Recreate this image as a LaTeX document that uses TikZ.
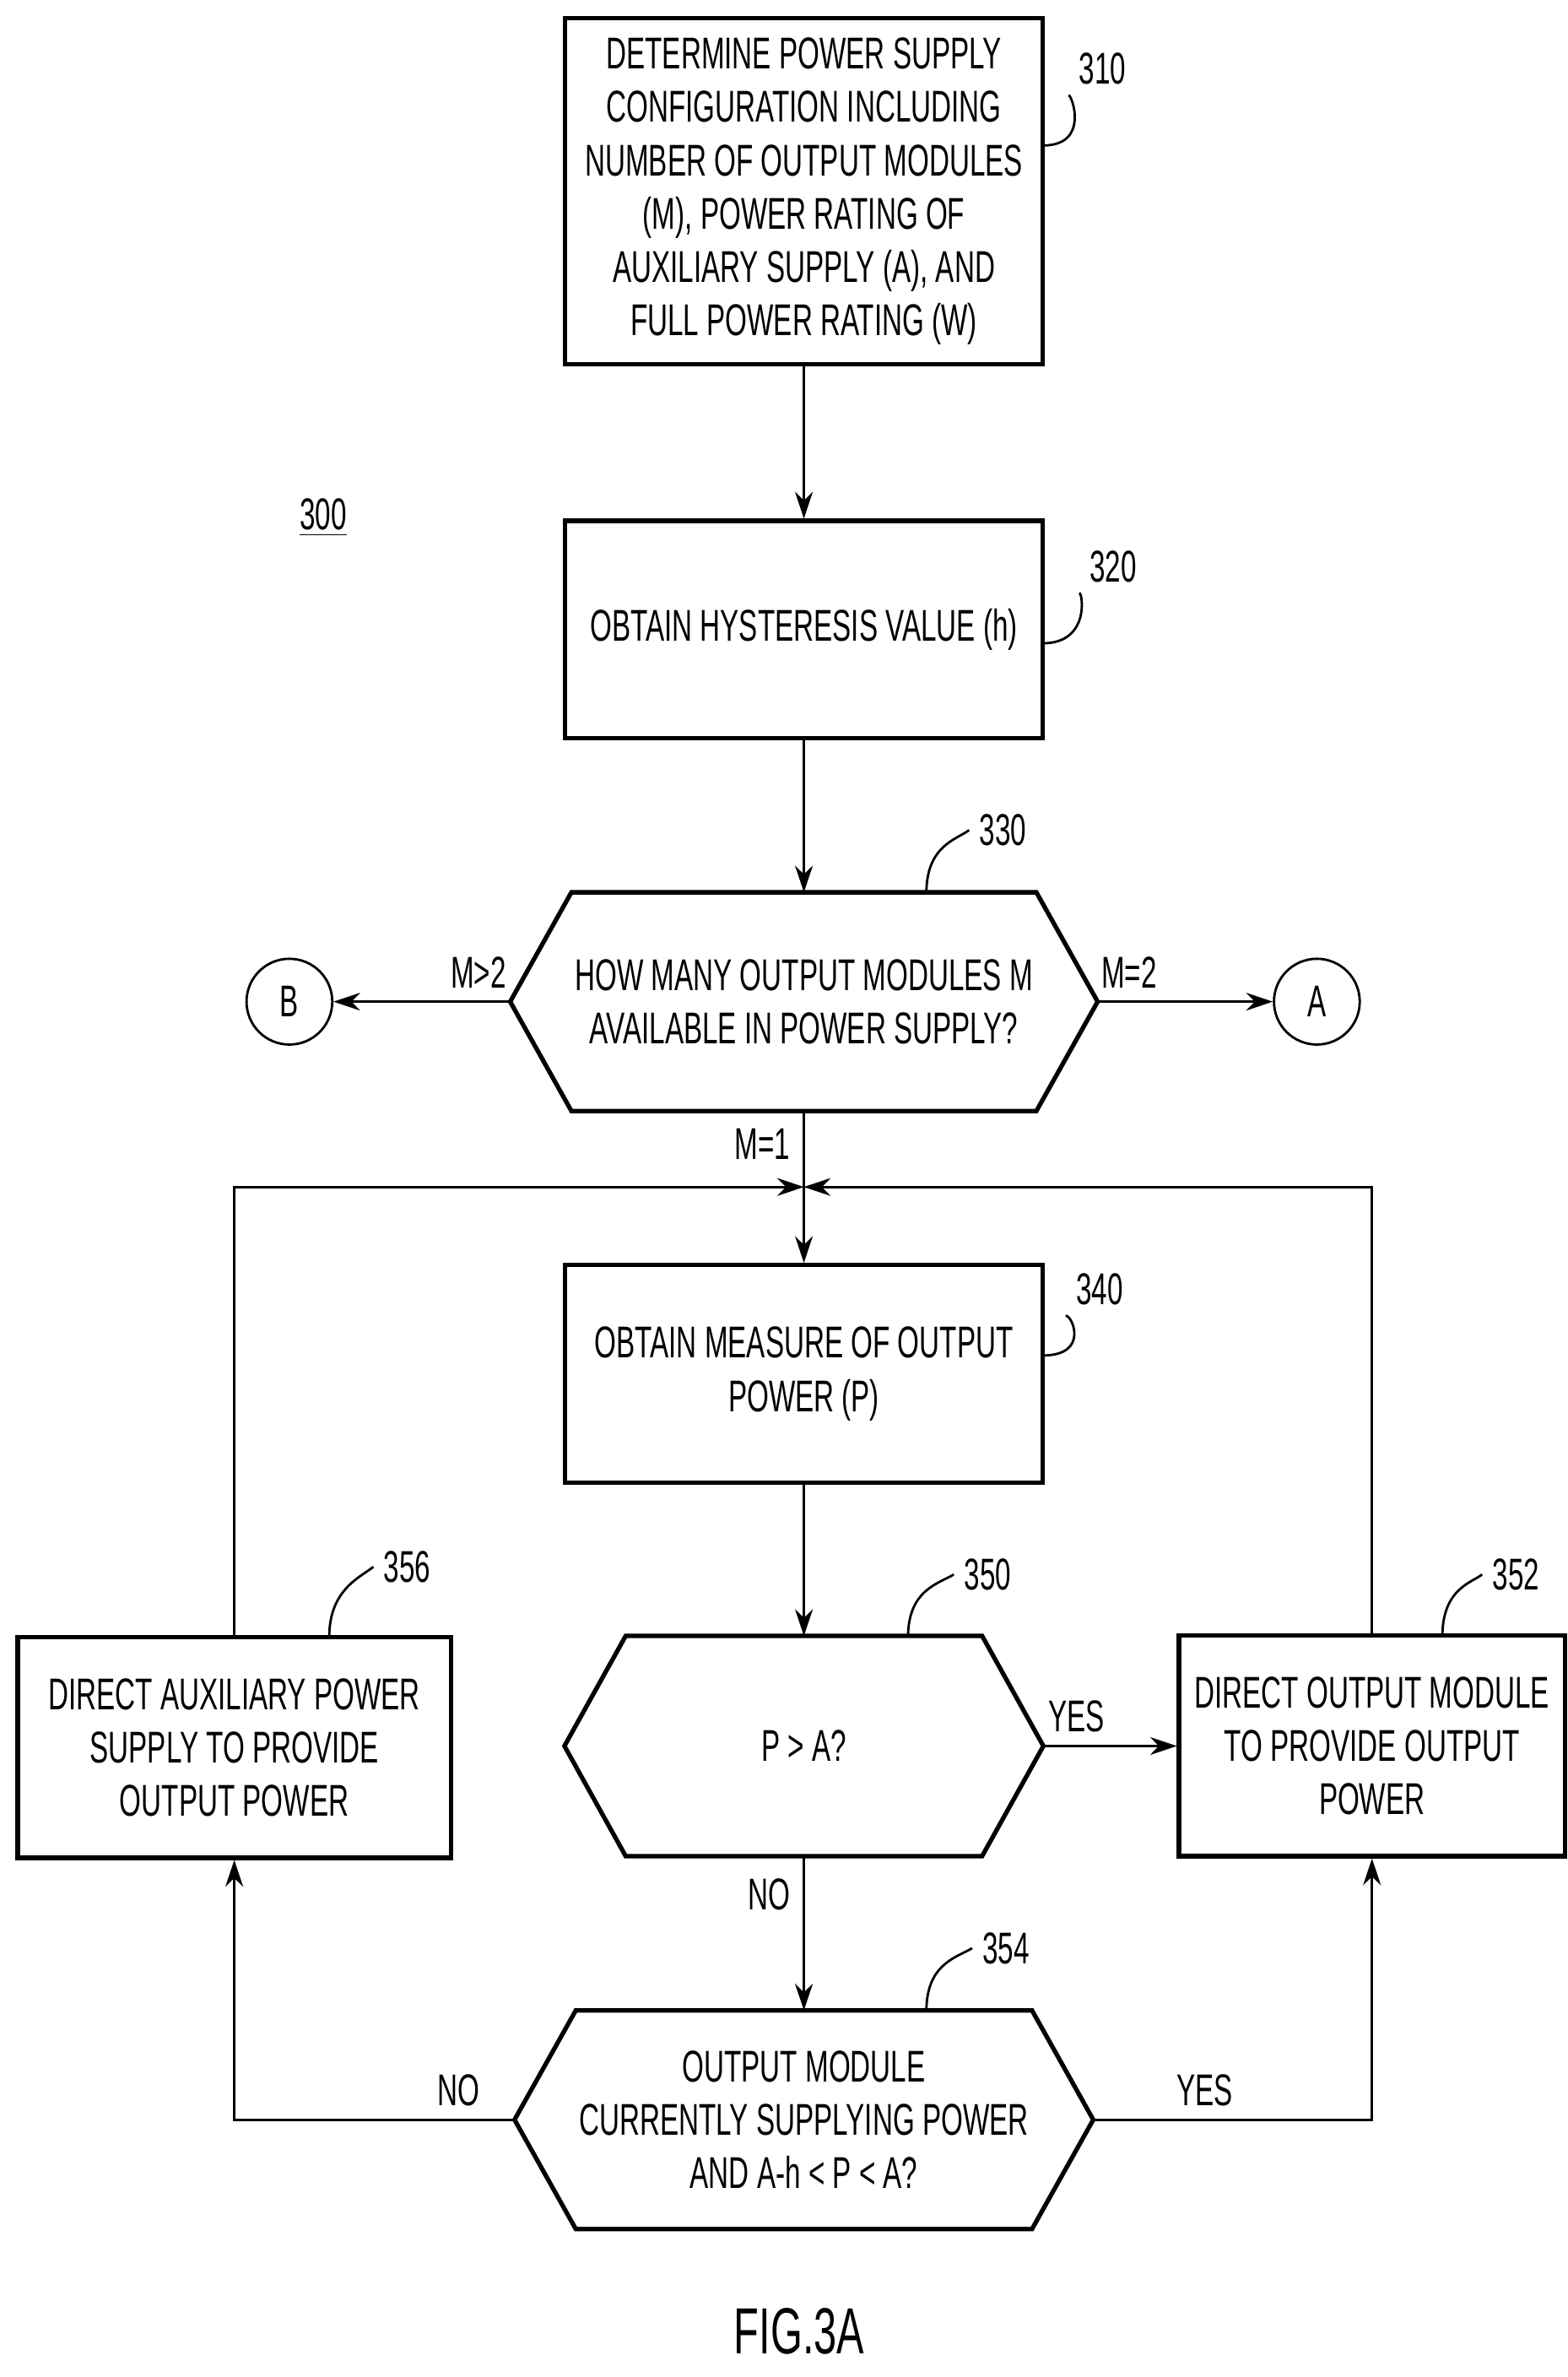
\documentclass[tikz,border=0pt]{standalone}
\usepackage{fontspec}
\setmainfont{Liberation Sans}[FakeStretch=0.63]
\usetikzlibrary{arrows.meta,calc,positioning}
\def\dpx{0.018145cm}
\tikzset{
  box/.style={draw, line width=1.5pt, align=center, inner sep=2pt, minimum width=312*\dpx, minimum height=142*\dpx, font=\fontsize{15}{18}\selectfont},
  hexa/.style={align=center, inner sep=1pt, minimum height=142*\dpx, font=\fontsize{15}{18}\selectfont},
  conn/.style={line width=0.8pt, -{Stealth[length=9pt,width=6pt]}},
  lead/.style={line width=0.8pt},
  tag/.style={font=\fontsize{15}{18}\selectfont},
  lbl/.style={font=\fontsize{15}{18}\selectfont},
}
\newcommand{\hexdraw}[1]{%
  \draw[line width=1.5pt] (#1.north west) -- (#1.north east) -- ([xshift=40*\dpx]#1.east)
    -- (#1.south east) -- (#1.south west) -- ([xshift=-40*\dpx]#1.west) -- cycle;}
\begin{document}
\begin{tikzpicture}[x=\dpx,y=-\dpx]
    \useasboundingbox (0,0) rectangle (1024,1552);
    %% Boxes
    \node[box, minimum height=226*\dpx] (n310) at (525,125)
      {DETERMINE POWER SUPPLY\\CONFIGURATION INCLUDING\\NUMBER OF OUTPUT MODULES\\(M), POWER RATING OF\\AUXILIARY SUPPLY (A), AND\\FULL POWER RATING (W)};
    \node[box] (n320) at (525,411) {OBTAIN HYSTERESIS VALUE (h)};
    \node[hexa, minimum width=296*\dpx] (n330) at (525,654)
      {HOW MANY OUTPUT MODULES M\\AVAILABLE IN POWER SUPPLY?};
    \hexdraw{n330}
    \node[box] (n340) at (525,897) {OBTAIN MEASURE OF OUTPUT\\POWER (P)};
    \node[hexa, minimum width=232*\dpx, minimum height=143*\dpx] (n350) at (525,1140) {P > A?};
    \hexdraw{n350}
    \node[box, minimum width=252*\dpx, minimum height=144*\dpx] (n352) at (896,1140)
      {DIRECT OUTPUT MODULE\\TO PROVIDE OUTPUT\\POWER};
    \node[box, minimum width=283*\dpx, minimum height=144*\dpx] (n356) at (153,1141)
      {DIRECT AUXILIARY POWER\\SUPPLY TO PROVIDE\\OUTPUT POWER};
    \node[hexa, minimum width=277*\dpx] (n354) at (525,1384)
      {OUTPUT MODULE\\CURRENTLY SUPPLYING POWER\\AND A-h < P < A?};
    \hexdraw{n354}
    %% Connectors
    \node[draw, circle, line width=0.8pt, minimum size=56*\dpx, inner sep=0pt, tag] (cB) at (189,654) {B};
    \node[draw, circle, line width=0.8pt, minimum size=56*\dpx, inner sep=0pt, tag] (cA) at (860,654) {A};
    \coordinate (t330l) at ([xshift=-40*\dpx]n330.west);
    \coordinate (t330r) at ([xshift=40*\dpx]n330.east);
    \coordinate (t350r) at ([xshift=40*\dpx]n350.east);
    \coordinate (t354l) at ([xshift=-40*\dpx]n354.west);
    \coordinate (t354r) at ([xshift=40*\dpx]n354.east);
    \coordinate (j) at (525,775);
    \draw[conn] (n310) -- (n320);
    \draw[conn] (n320) -- (n330);
    \draw[conn] (t330l) -- (cB) node[lbl, pos=0.18, above=1pt] {M>2};
    \draw[conn] (t330r) -- (cA) node[lbl, pos=0.18, above=1pt] {M=2};
    \draw[conn] (n330) -- (n340) node[lbl, pos=0.22, left=1pt] {M=1};
    \draw[conn] (n356.north) |- (j);
    \draw[conn] (n352.north) |- (j);
    \draw[conn] (n340) -- (n350);
    \draw[conn] (t350r) -- (n352) node[lbl, pos=0.25, above=1pt] {YES};
    \draw[conn] (n350) -- (n354) node[lbl, pos=0.25, left=1pt] {NO};
    \draw[conn] (t354l) -| (n356.south) node[lbl, pos=0.1, above=1pt] {NO};
    \draw[conn] (t354r) -| (n352.south) node[lbl, pos=0.2, above=1pt] {YES};
    %% Reference labels
    \node[tag] (l310) at (720,45) {310};
    \node[tag] (l320) at (727,370) {320};
    \node[tag] (l330) at (655,542) {330};
    \node[tag] (l340) at (718,842) {340};
    \node[tag] (l350) at (645,1028) {350};
    \node[tag] (l352) at (990,1028) {352};
    \node[tag] (l356) at (266,1023) {356};
    \node[tag] (l354) at (657,1272) {354};
    \draw[lead] (681,95) .. controls (712,95) and (700,62) .. (l310.south west);
    \draw[lead] (681,420) .. controls (712,420) and (707,387) .. (l320.south west);
    \draw[lead] (605,583) .. controls (605,552) and (625,548) .. (l330.west);
    \draw[lead] (681,885) .. controls (712,885) and (700,858) .. (l340.south west);
    \draw[lead] (593,1069) .. controls (593,1038) and (613,1034) .. (l350.west);
    \draw[lead] (942,1068) .. controls (942,1037) and (962,1033) .. (l352.west);
    \draw[lead] (215,1069) .. controls (215,1038) and (235,1030) .. (l356.west);
    \draw[lead] (605,1313) .. controls (605,1282) and (625,1278) .. (l354.west);
    %% Figure label
    \node[tag] (n300) at (211,338) {\underline{300}};
    \node[font=\fontsize{22}{26}\selectfont] (fig) at (522,1522) {FIG.3A};
\end{tikzpicture}
\end{document}
